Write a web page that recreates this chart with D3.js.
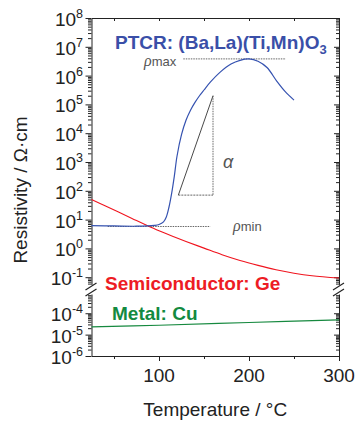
<html>
<head>
  <script src="https://d3js.org/d3.v7.min.js"></script>
  <style>
    body { margin: 0; background: white; }
    text { font-family: "Liberation Sans", Arial, sans-serif; }
    .axis path, .axis line { stroke: #222; stroke-width: 1px; }
  </style>
</head>
<body>
  <svg id="chart" width="356" height="423"></svg>
  <script>
    // temperature (°C) and log10 of resistivity (Ω·cm)
    const tempPTCR = [25, 50, 75, 95, 100, 105, 108, 111, 114, 117, 120, 125, 130, 135, 140, 145, 150, 157, 168, 180, 190, 200, 210, 220, 231, 240, 250];
    const logPTCR = [0.79, 0.78, 0.77, 0.80, 0.83, 0.92, 1.08, 1.42, 1.9, 2.5, 3.2, 3.95, 4.45, 4.8, 5.07, 5.3, 5.5, 5.77, 6.12, 6.4, 6.53, 6.58, 6.5, 6.28, 5.8, 5.45, 5.15];

    const tempGe = [25, 40, 55, 70, 85, 100, 115, 130, 150, 170, 190, 210, 230, 250, 270, 300];
    const logGe = [1.70, 1.48, 1.26, 1.04, 0.82, 0.61, 0.42, 0.24, 0.01, -0.22, -0.42, -0.59, -0.74, -0.86, -0.95, -1.03];

    const tempCu = [25, 100, 200, 300];
    const logCu = [-4.64, -4.56, -4.43, -4.31];

    // annotation geometry in data units
    const rhoMax = { t0: 127, t1: 241, log: 6.58 };
    const rhoMin = { t0: 43, t1: 157, log: 0.76 };
    const slope = { t0: 121.5, t1: 160, logLow: 1.85, logHigh: 5.3 };

    const xTicks = [100, 200, 300];
    const xMinor = [50, 150, 250];
    const yTicksHi = [-1, 0, 1, 2, 3, 4, 5, 6, 7, 8];
    const yTicksLo = [-6, -5, -4];

    const svg = d3.select("#chart");
    const plotL = 91.5, plotR = 339, plotT = 18, plotB = 356;

    const x = d3.scaleLinear().domain([25, 300]).range([plotL, plotR]);
    const yHi = d3.scaleLog().domain([Math.pow(10, -1.25), 1e8]).range([284.4, plotT]);
    const yLo = d3.scaleLog().domain([1e-6, Math.pow(10, -3.1)]).range([plotB, 294]);

    const yPos = v => (v >= Math.pow(10, -1.25) ? yHi(v) : yLo(v));

    function minorTicks(scale) {
      const [a, b] = scale.domain();
      let out = [];
      for (let e = Math.floor(Math.log10(a)); e <= Math.ceil(Math.log10(b)); e++) {
        for (let m = 2; m <= 9; m++) {
          const v = m * Math.pow(10, e);
          if (v >= a && v <= b) out.push(v);
        }
      }
      return out;
    }

    // left axis (ticks outward), right axis (ticks inward)
    [yHi, yLo].forEach(s => {
      const majors = s.ticks().filter(v => Math.abs(Math.log10(v) - Math.round(Math.log10(v))) < 1e-9);
      svg.append("g").attr("class", "axis")
        .attr("transform", `translate(${plotL},0)`)
        .call(d3.axisLeft(s).tickValues(majors).tickSize(6).tickSizeOuter(0).tickFormat(""));
      svg.append("g").attr("class", "axis")
        .attr("transform", `translate(${plotL},0)`)
        .call(d3.axisLeft(s).tickValues(minorTicks(s)).tickSize(3.5).tickSizeOuter(0).tickFormat(""))
        .select(".domain").remove();
      svg.append("g").attr("class", "axis")
        .attr("transform", `translate(${plotR},0)`)
        .call(d3.axisLeft(s).tickValues(majors).tickSize(5).tickSizeOuter(0).tickFormat(""));
      svg.append("g").attr("class", "axis")
        .attr("transform", `translate(${plotR},0)`)
        .call(d3.axisLeft(s).tickValues(minorTicks(s)).tickSize(3).tickSizeOuter(0).tickFormat(""))
        .select(".domain").remove();
    });

    // bottom axis
    svg.append("g").attr("class", "axis")
      .attr("transform", `translate(0,${plotB})`)
      .call(d3.axisBottom(x).tickValues(xTicks).tickSize(5).tickSizeOuter(0).tickFormat(""));
    svg.append("g").attr("class", "axis")
      .attr("transform", `translate(0,${plotB})`)
      .call(d3.axisBottom(x).tickValues(xMinor).tickSize(3).tickSizeOuter(0).tickFormat(""))
      .select(".domain").remove();
    // top axis
    svg.append("g").attr("class", "axis")
      .attr("transform", `translate(0,${plotT})`)
      .call(d3.axisBottom(x).tickValues(xTicks.concat(xMinor)).tickSize(3).tickSizeOuter(0).tickFormat(""));

    svg.selectAll(".xlab").data(xTicks).join("text")
      .attr("x", d => x(d)).attr("y", 382)
      .attr("text-anchor", "middle").attr("font-size", 19).attr("fill", "#222")
      .text(d => d);

    // y labels with superscripts
    const ylabs = yTicksHi.map(e => ({ e, y: yHi(Math.pow(10, e)) }))
      .concat(yTicksLo.map(e => ({ e, y: yLo(Math.pow(10, e)) })));
    const yl = svg.selectAll(".ylab").data(ylabs).join("text")
      .attr("x", 83).attr("y", d => d.y + 8)
      .attr("text-anchor", "end").attr("font-size", 19).attr("fill", "#222");
    yl.append("tspan").text("10");
    yl.append("tspan").attr("dy", -8).attr("font-size", 12.5).text(d => d.e);

    // axis breaks
    [plotL, plotR].forEach(cx => {
      [0, 6].forEach(off => {
        svg.append("line")
          .attr("x1", cx - 6).attr("y1", 290 + off)
          .attr("x2", cx + 5).attr("y2", 283 + off)
          .attr("stroke", "#222").attr("stroke-width", 1.2);
      });
    });

    // titles
    svg.append("text").attr("x", x(162.5)).attr("y", 416)
      .attr("text-anchor", "middle").attr("font-size", 19).attr("fill", "#222")
      .text("Temperature / °C");
    svg.append("text").attr("transform", "translate(27,190) rotate(-90)")
      .attr("text-anchor", "middle").attr("font-size", 19).attr("fill", "#222")
      .text("Resistivity / Ω·cm");

    // guide lines
    const guide = svg.append("g").attr("stroke", "#555").attr("stroke-width", 0.9).attr("fill", "none");
    guide.append("line")
      .attr("x1", x(rhoMax.t0)).attr("x2", x(rhoMax.t1))
      .attr("y1", yHi(Math.pow(10, rhoMax.log))).attr("y2", yHi(Math.pow(10, rhoMax.log)))
      .attr("stroke-dasharray", "1.5,1");
    guide.append("line")
      .attr("x1", x(rhoMin.t0)).attr("x2", x(rhoMin.t1))
      .attr("y1", yHi(Math.pow(10, rhoMin.log))).attr("y2", yHi(Math.pow(10, rhoMin.log)))
      .attr("stroke-dasharray", "1.5,1");
    guide.append("line")
      .attr("x1", x(slope.t0)).attr("y1", yHi(Math.pow(10, slope.logLow)))
      .attr("x2", x(slope.t1)).attr("y2", yHi(Math.pow(10, slope.logHigh)))
      .attr("stroke", "#333");
    guide.append("line")
      .attr("x1", x(slope.t1)).attr("y1", yHi(Math.pow(10, slope.logHigh)))
      .attr("x2", x(slope.t1)).attr("y2", yHi(Math.pow(10, slope.logLow)))
      .attr("stroke-dasharray", "1.5,1");
    guide.append("line")
      .attr("x1", x(slope.t0)).attr("y1", yHi(Math.pow(10, slope.logLow)))
      .attr("x2", x(slope.t1)).attr("y2", yHi(Math.pow(10, slope.logLow)))
      .attr("stroke-dasharray", "2,1");

    // curves
    const line = d3.line().curve(d3.curveCatmullRom.alpha(0.5))
      .x(d => x(d[0])).y(d => yPos(Math.pow(10, d[1])));

    svg.append("path").datum(d3.zip(tempGe, logGe))
      .attr("d", line).attr("fill", "none").attr("stroke", "#f0141e").attr("stroke-width", 1.1);
    svg.append("path").datum(d3.zip(tempCu, logCu))
      .attr("d", line).attr("fill", "none").attr("stroke", "#16893f").attr("stroke-width", 1.1);
    svg.append("path").datum(d3.zip(tempPTCR, logPTCR))
      .attr("d", line).attr("fill", "none").attr("stroke", "#3552b0").attr("stroke-width", 1.2);

    // labels
    const ptcr = svg.append("text").attr("x", 115).attr("y", 49)
      .attr("font-size", 19).attr("font-weight", "bold").attr("fill", "#3a4fa8");
    ptcr.append("tspan").text("PTCR: (Ba,La)(Ti,Mn)O");
    ptcr.append("tspan").attr("dy", 5).attr("font-size", 13).text("3");

    svg.append("text").attr("x", 105).attr("y", 290)
      .attr("font-size", 19).attr("font-weight", "bold").attr("fill", "#ed1c24")
      .text("Semiconductor: Ge");
    svg.append("text").attr("x", 112).attr("y", 320)
      .attr("font-size", 19).attr("font-weight", "bold").attr("fill", "#138a40")
      .text("Metal: Cu");

    const pmax = svg.append("text").attr("x", 144).attr("y", 66).attr("fill", "#555");
    pmax.append("tspan").attr("font-size", 16).attr("font-style", "italic")
      .attr("font-family", "'Liberation Serif', serif").text("ρ");
    pmax.append("tspan").attr("font-size", 13).text("max");

    const pmin = svg.append("text").attr("x", 233).attr("y", 231).attr("fill", "#555");
    pmin.append("tspan").attr("font-size", 16).attr("font-style", "italic")
      .attr("font-family", "'Liberation Serif', serif").text("ρ");
    pmin.append("tspan").attr("font-size", 13).text("min");

    svg.append("text").attr("x", 223).attr("y", 168).attr("fill", "#555")
      .attr("font-size", 18).attr("font-style", "italic")
      .attr("font-family", "'Liberation Serif', serif").text("α");
  </script>
</body>
</html>
